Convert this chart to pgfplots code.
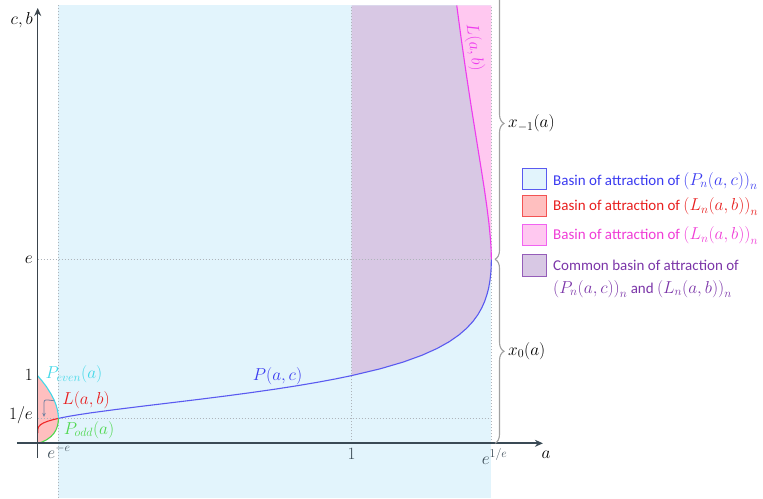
\documentclass[border=0pt]{standalone}
\usepackage{pgfplots}
\pgfplotsset{compat=1.18}
\usepackage{fontspec}
\setmainfont{Carlito}
\usetikzlibrary{arrows.meta,decorations.pathreplacing}
\definecolor{bgblue}{HTML}{E2F4FC}
\definecolor{purfill}{HTML}{D8C8E4}
\definecolor{pinkfill}{HTML}{FFC8F0}
\definecolor{redfill}{HTML}{FFBFBF}
\definecolor{lineblue}{HTML}{5A5AF0}
\definecolor{linemag}{HTML}{EE3CEE}
\definecolor{linecyan}{HTML}{40D8E8}
\definecolor{linegreen}{HTML}{50D850}
\definecolor{linered}{HTML}{F02828}
\definecolor{dotgray}{HTML}{AEB4BA}
\definecolor{axisgray}{HTML}{3A444C}
\definecolor{bracegray}{HTML}{A0A0A0}
\definecolor{txtblue}{HTML}{3A3AF0}
\definecolor{txtred}{HTML}{E81E1E}
\definecolor{txtpink}{HTML}{F03CD6}
\definecolor{txtpurple}{HTML}{7B35A8}
\definecolor{tickslate}{HTML}{3A4A55}
\definecolor{arrowgray}{HTML}{7080A0}
\newcommand{\lm}[1]{{\fontsize{17}{18}\selectfont$#1$}}
\begin{document}
\begin{tikzpicture}
\begin{axis}[name=ax, scale only axis, width=763pt, height=498pt,
  xmin=-0.12006, xmax=2.30987, ymin=-0.80798, ymax=6.54801,
  hide axis, clip=false]
% regions
\addplot[draw=none, fill=bgblue] coordinates {(0.06599,-0.808) (1.4447,-0.808) (1.4447,6.467) (0.06599,6.467)} -- cycle;
\addplot[draw=none, fill=purfill] coordinates {(1,1) (1,6.467) (1.3346,6.467) (1.3480,6) (1.3634,5.5) (1.3797,5) (1.3969,4.5) (1.4142,4) (1.4226,3.75) (1.4303,3.5) (1.4371,3.25) (1.4422,3) (1.4436,2.9) (1.4444,2.8) (1.4447,2.718) (1.4445,2.65) (1.4441,2.6) (1.4436,2.55) (1.4427,2.5) (1.4402,2.4) (1.4364,2.3) (1.4310,2.2) (1.4238,2.1) (1.4142,2.0) (1.4019,1.9) (1.3862,1.8) (1.3663,1.7) (1.3414,1.6) (1.3104,1.5) (1.2717,1.4) (1.2236,1.3) (1.1641,1.2) (1.0905,1.1) (1,1)} -- cycle;
\addplot[draw=none, fill=pinkfill] coordinates {(1.3346,6.467) (1.3480,6) (1.3634,5.5) (1.3797,5) (1.3969,4.5) (1.4142,4) (1.4226,3.75) (1.4303,3.5) (1.4371,3.25) (1.4422,3) (1.4436,2.9) (1.4444,2.8) (1.4447,2.718) (1.4447,6.467)} -- cycle;
\addplot[draw=none, fill=redfill] coordinates {(0,1) (0.00094,0.99305) (0.00794,0.9528) (0.0143,0.9185) (0.0278,0.836) (0.0424,0.729) (0.0521,0.642) (0.0584,0.5666) (0.0625,0.5) (0.0648,0.44) (0.06562,0.407) (0.06599,0.3679) (0.06562,0.33) (0.0648,0.3) (0.0625,0.25) (0.0584,0.2) (0.0521,0.15) (0.0424,0.1) (0.0278,0.05) (0.0143,0.02) (0.00794,0.01) (0.00094,0.001) (0,0)} -- cycle;
% dotted guides
\addplot[dotgray, line width=0.8pt, dash pattern=on 1pt off 2pt] coordinates {(0.06599,-0.808) (0.06599,6.467)};
\addplot[dotgray, line width=0.8pt, dash pattern=on 1pt off 2pt] coordinates {(1,0) (1,6.467)};
\addplot[dotgray, line width=0.8pt, dash pattern=on 1pt off 2pt] coordinates {(1.4447,0) (1.4447,6.467)};
\addplot[dotgray, line width=0.8pt, dash pattern=on 1pt off 2pt] coordinates {(0,0.3679) (1.4447,0.3679)};
\addplot[dotgray, line width=0.8pt, dash pattern=on 1pt off 2pt] coordinates {(0,2.718) (1.4447,2.718)};
% curves
\addplot[lineblue, line width=1.1pt] coordinates {(0.06599,0.3679) (0.07838,0.38) (0.1012,0.4) (0.1268,0.42) (0.1696,0.45) (0.25,0.5) (0.3372,0.55) (0.4268,0.6) (0.5154,0.65) (0.6008,0.7) (0.6814,0.75) (0.7566,0.8) (0.8260,0.85) (0.8895,0.9) (0.9474,0.95) (1,1) (1.0905,1.1) (1.1641,1.2) (1.2236,1.3) (1.2717,1.4) (1.3104,1.5) (1.3414,1.6) (1.3663,1.7) (1.3862,1.8) (1.4019,1.9) (1.4142,2.0) (1.4238,2.1) (1.4310,2.2) (1.4364,2.3) (1.4402,2.4) (1.4427,2.5) (1.4436,2.55) (1.4441,2.6) (1.4445,2.65) (1.4447,2.718)};
\addplot[linemag, line width=1.1pt] coordinates {(1.4447,2.718) (1.4444,2.8) (1.4436,2.9) (1.4422,3) (1.4371,3.25) (1.4303,3.5) (1.4226,3.75) (1.4142,4) (1.3969,4.5) (1.3797,5) (1.3634,5.5) (1.3480,6) (1.3346,6.467)};
\addplot[linered, line width=1.1pt] coordinates {(0,0.15) (0.00032,0.2) (0.00132,0.225) (0.0039,0.25) (0.00915,0.275) (0.01807,0.3) (0.03149,0.325) (0.0498,0.35) (0.06599,0.3679)};
\addplot[linecyan, line width=1.1pt] coordinates {(0,1) (0.00094,0.99305) (0.00794,0.9528) (0.0143,0.9185) (0.0278,0.836) (0.0424,0.729) (0.0521,0.642) (0.0584,0.5666) (0.0625,0.5) (0.0648,0.44) (0.06562,0.407) (0.06599,0.3679)};
\addplot[linegreen, line width=1.1pt] coordinates {(0,0) (0.00094,0.001) (0.00794,0.01) (0.0143,0.02) (0.0278,0.05) (0.0424,0.1) (0.0521,0.15) (0.0584,0.2) (0.0625,0.25) (0.0648,0.3) (0.06562,0.33) (0.06599,0.3679)};
% axes
\draw[tickslate, line width=1.6pt, -{Stealth[length=8pt,width=7pt]}] (axis cs:-0.066,0) -- (axis cs:1.609,0);
\draw[axisgray, line width=1.6pt, -{Stealth[length=8pt,width=7pt]}] (axis cs:0,-0.218) -- (axis cs:0,6.43);
% braces
\draw[bracegray, line width=1.1pt, decorate, decoration={brace, amplitude=9pt}] (axis cs:1.4564,2.718) -- (axis cs:1.4564,0);
\draw[bracegray, line width=1.1pt, decorate, decoration={brace, amplitude=9pt}] (axis cs:1.4564,6.731) -- (axis cs:1.4564,2.718);
% arrow to L(a,b)
\draw[arrowgray, line width=0.8pt, -{Stealth[length=4pt,width=3.5pt]}] (axis cs:0.052,0.629) -- (axis cs:0.032,0.64) .. controls (axis cs:0.020,0.64) .. (axis cs:0.020,0.56) -- (axis cs:0.020,0.39);
% axis labels and ticks
\node[anchor=east, inner sep=0pt, font=\fontsize{17}{20}\selectfont] at (axis cs:-0.015,6.253) {$c,b$};
\node[inner sep=0pt, font=\fontsize{17}{20}\selectfont] at (axis cs:1.6188,-0.172) {$a$};
\node[anchor=east, inner sep=0pt, font=\fontsize{17}{20}\selectfont] at (axis cs:-0.015,2.718) {$e$};
\node[anchor=east, inner sep=0pt, font=\fontsize{17}{20}\selectfont] at (axis cs:-0.015,1.016) {$1$};
\node[anchor=east, inner sep=0pt, font=\fontsize{17}{20}\selectfont] at (axis cs:-0.015,0.418) {$1/e$};
\node[anchor=north, inner sep=0pt, text=tickslate, font=\fontsize{17}{20}\selectfont] at (axis cs:0.0678,-0.02) {$e^{-e}$};
\node[anchor=north, inner sep=0pt, text=tickslate, font=\fontsize{17}{20}\selectfont] at (axis cs:1,-0.07) {$1$};
\node[anchor=north west, inner sep=0pt, text=tickslate, font=\fontsize{17}{20}\selectfont] at (axis cs:1.414,-0.08) {$e^{1/e}$};
\node[anchor=west, inner sep=0pt, font=\fontsize{17}{20}\selectfont] at (axis cs:1.4978,1.363) {$x_0(a)$};
\node[anchor=west, inner sep=0pt, font=\fontsize{17}{20}\selectfont] at (axis cs:1.4978,4.727) {$x_{-1}(a)$};
% curve labels
\node[inner sep=0pt, text=txtblue, font=\fontsize{17}{20}\selectfont] at (axis cs:0.7637,0.994) {$P(a,c)$};
\node[inner sep=0pt, text=linemag, rotate=-82, font=\fontsize{16}{18}\selectfont] at (axis cs:1.3905,5.846) {$L(a,b)$};
\node[inner sep=0pt, text=linecyan, font=\fontsize{17}{20}\selectfont] at (axis cs:0.1156,1.02) {$P_{even}(a)$};
\node[inner sep=0pt, text=txtred, font=\fontsize{17}{20}\selectfont] at (axis cs:0.154,0.64) {$L(a,b)$};
\node[inner sep=0pt, text=linegreen, font=\fontsize{17}{20}\selectfont] at (axis cs:0.1634,0.196) {$P_{odd}(a)$};
% legend
\draw[draw=lineblue, fill=bgblue, line width=1pt] (axis cs:1.5455,3.7415) rectangle (axis cs:1.6188,4.0517);
\draw[draw=linered!80, fill=redfill, line width=1pt] (axis cs:1.5455,3.3501) rectangle (axis cs:1.6188,3.6603);
\draw[draw=linemag!80, fill=pinkfill, line width=1pt] (axis cs:1.5455,2.9143) rectangle (axis cs:1.6188,3.2245);
\draw[draw=txtpurple!80, fill=purfill, line width=1pt] (axis cs:1.5455,2.4638) rectangle (axis cs:1.6188,2.7888);
\node[anchor=west, inner sep=0pt, text=txtblue, font=\fontsize{15}{18}\selectfont] at (axis cs:1.6411,3.8744) {Basin of attraction of \lm{\big(P_n(a,c)\big)_n}};
\node[anchor=west, inner sep=0pt, text=txtred, font=\fontsize{15}{18}\selectfont] at (axis cs:1.6411,3.4919) {Basin of attraction of \lm{\big(L_n(a,b)\big)_n}};
\node[anchor=west, inner sep=0pt, text=txtpink, font=\fontsize{15}{18}\selectfont] at (axis cs:1.6411,3.0635) {Basin of attraction of \lm{\big(L_n(a,b)\big)_n}};
\node[anchor=west, inner sep=0pt, text=txtpurple, font=\fontsize{15}{18}\selectfont] at (axis cs:1.6411,2.6263) {Common basin of attraction of};
\node[anchor=west, inner sep=0pt, text=txtpurple, font=\fontsize{15}{18}\selectfont] at (axis cs:1.6411,2.2792) {\lm{\big(P_n(a,c)\big)_n} and \lm{\big(L_n(a,b)\big)_n}};
\end{axis}
\pgfresetboundingbox
\path (ax.south west) rectangle (ax.north east);
\end{tikzpicture}
\end{document}
